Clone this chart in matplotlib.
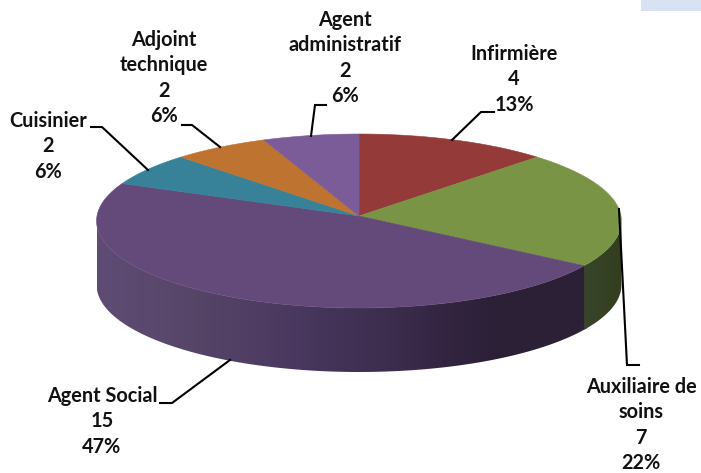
import numpy as np
import matplotlib
matplotlib.use("Agg")
import matplotlib.pyplot as plt
from matplotlib.patches import Polygon, PathPatch, Rectangle
from matplotlib.path import Path
from matplotlib.colors import LinearSegmentedColormap

noms = ["Infirmière", "Auxiliaire de\nsoins", "Agent Social", "Cuisinier", "Adjoint\ntechnique", "Agent\nadministratif"]
effectifs = [4, 7, 15, 2, 2, 2]
pourcents = ["13%", "22%", "47%", "6%", "6%", "6%"]
couleurs = ["#943b39", "#7a9445", "#644a7b", "#378299", "#bf7330", "#7c5c98"]

# position du texte (centre, y de la premiere ligne) et trait de rappel, a la main (pixels)
pos_txt = [(514, 54), (641, 387), (102, 396), (48, 121), (164, 40), (345, 20)]
interligne = 25.3
traits = [
    [(452, 140), (481, 112), (494, 112)],
    [(619, 209), (627, 365), (639, 365)],
    [(230, 360), (172, 403), (160, 403)],
    [(148, 170), (102, 127), (91, 127)],
    [(220, 147), (192, 125), (182, 125)],
    [(311, 136), (315, 105), (326, 105)],
]

cx, cy = 359, 216
rx, ry = 262, 86.7
prof = 64
k = 0.0575


def proj(a):
    # a : angle en radians depuis le haut, sens horaire
    u = np.sin(a)
    v = -np.cos(a)
    s = 1 / (1 - k * v)
    return cx + rx * u * s, cy + ry * v * s


def arc(a1, a2, n=150):
    t = np.linspace(a1, a2, n)
    x, y = proj(t)
    return np.column_stack([x, y])


fig = plt.figure(figsize=(7.01, 4.73), dpi=100)
ax = fig.add_axes([0, 0, 1, 1])
ax.set_xlim(0, 701)
ax.set_ylim(473, 0)
ax.axis("off")

ax.add_patch(Rectangle((641, 0), 60, 11, color="#d9e2f3", lw=0))

total = sum(effectifs)
bornes = 2 * np.pi * np.cumsum([0] + effectifs) / total

# flancs : seulement la partie visible devant
ang = np.linspace(0, 2 * np.pi, 2000)
xa, ya = proj(ang)
a_droite = ang[np.argmax(xa)]
a_gauche = ang[np.argmin(xa)]

degrades = {
    1: ["#39452a", "#333e1f"],
    2: ["#5f4c75", "#574568", "#4a3860", "#3c2d4e", "#2d2038", "#2c2036"],
}
limites = {1: (a_droite, bornes[2]), 2: (bornes[2], a_gauche)}

# fond sombre sous le joint, pour eviter un trait blanc entre les deux flancs
joint = arc(bornes[2] - 0.02, bornes[2] + 0.02, 10)
ax.add_patch(Polygon(np.vstack([joint, joint[::-1] + [0, prof]]), closed=True,
                     facecolor="#2c2036", lw=0, zorder=1))

for i in limites:
    a1, a2 = limites[i]
    haut = arc(a1, a2)
    bas = haut[::-1] + [0, prof]
    poly = np.vstack([haut, bas])
    cmap = LinearSegmentedColormap.from_list("flanc", degrades[i])
    x0, x1 = poly[:, 0].min(), poly[:, 0].max()
    y0, y1 = poly[:, 1].min(), poly[:, 1].max()
    im = ax.imshow(np.linspace(0, 1, 256).reshape(1, -1), cmap=cmap, aspect="auto",
                   extent=(x0, x1, y1, y0), zorder=2)
    im.set_clip_path(PathPatch(Path(poly, closed=True), transform=ax.transData))
ax.set_xlim(0, 701)
ax.set_ylim(473, 0)

# dessus du camembert
for i in range(len(effectifs)):
    pts = np.vstack([[cx, cy], arc(bornes[i], bornes[i + 1])])
    ax.add_patch(Polygon(pts, closed=True, facecolor=couleurs[i], edgecolor=couleurs[i], lw=0.4, zorder=3))

for i in range(len(noms)):
    t = traits[i]
    ax.plot([p[0] for p in t], [p[1] for p in t], color="black", lw=1.5, zorder=4, solid_joinstyle="miter")
    lignes = noms[i].split("\n") + [str(effectifs[i]), pourcents[i]]
    for j, ligne in enumerate(lignes):
        ax.text(pos_txt[i][0], pos_txt[i][1] + j * interligne, ligne, ha="center", va="center", family="Lato",
                weight="bold", fontsize=14.3, color="#111111", zorder=5)

fig.savefig("out.png", dpi=100)
